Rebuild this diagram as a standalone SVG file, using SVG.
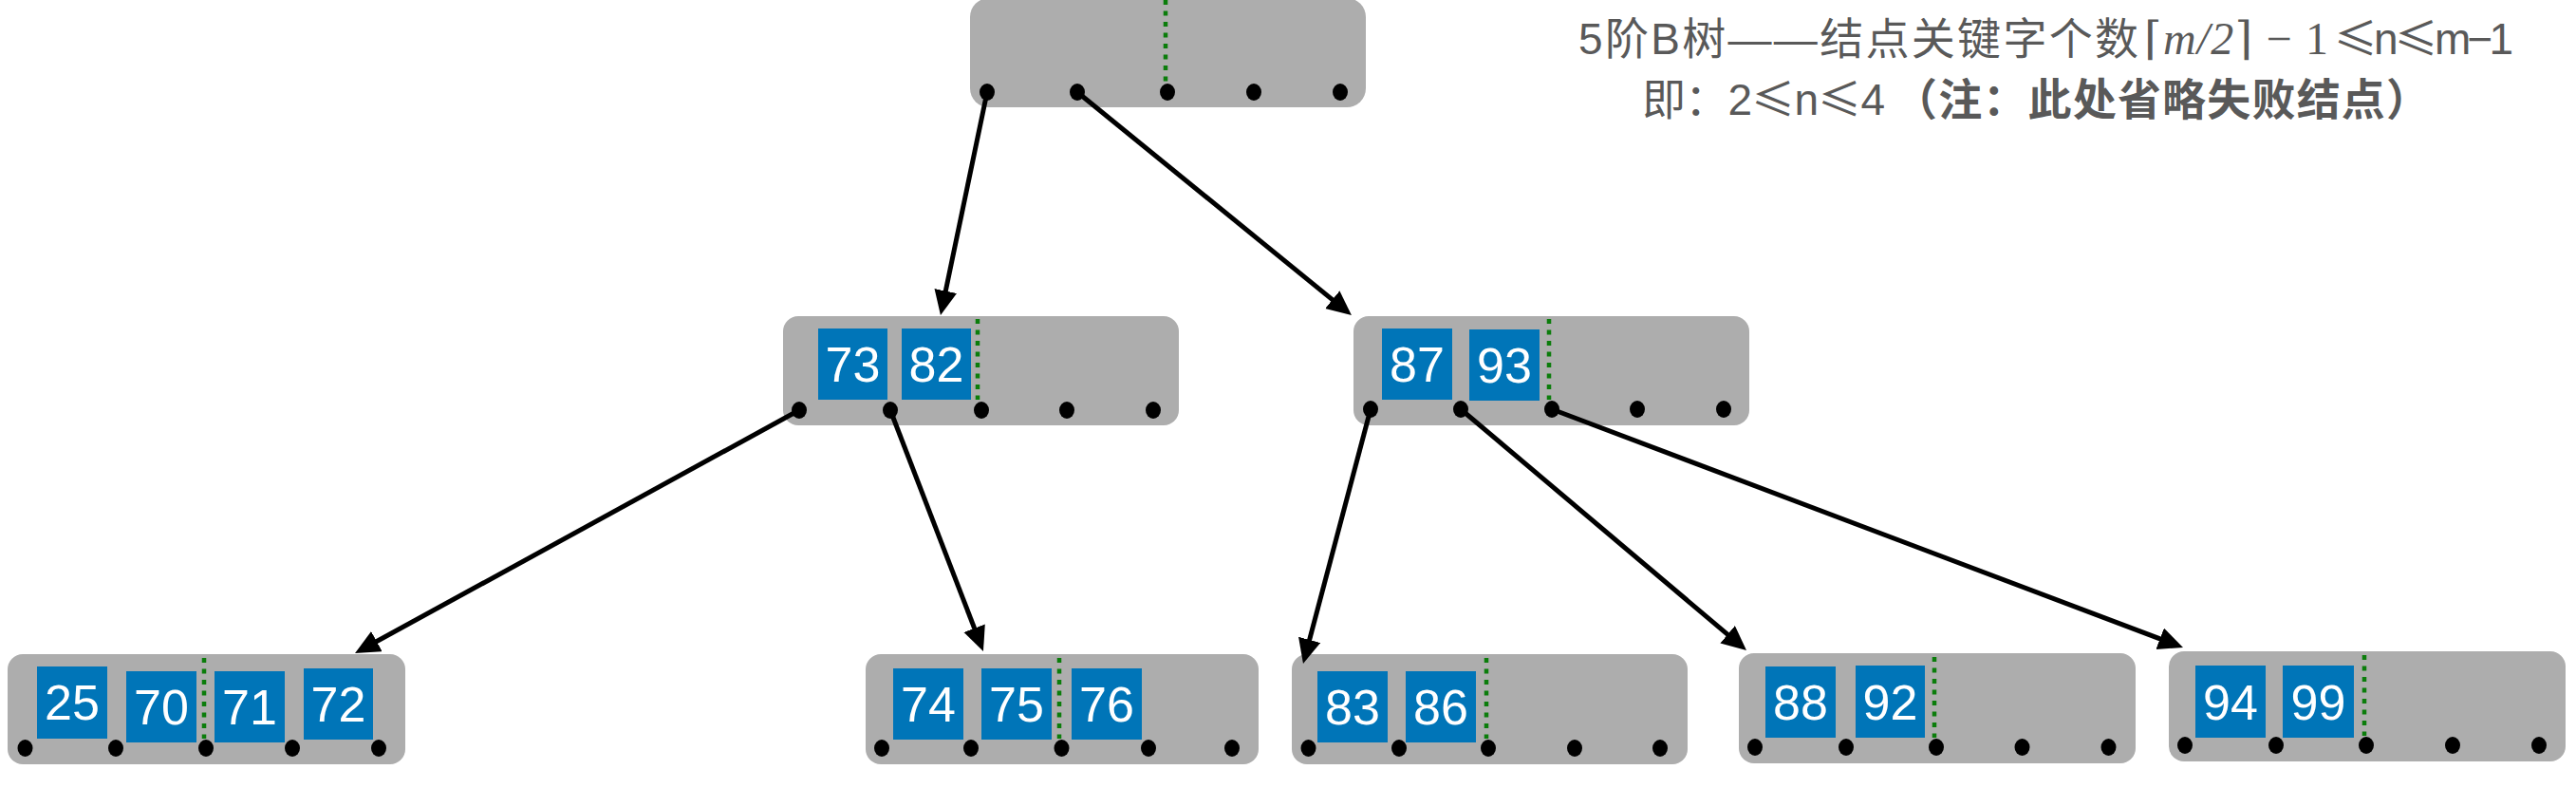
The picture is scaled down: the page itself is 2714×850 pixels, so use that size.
<svg xmlns="http://www.w3.org/2000/svg" width="2714" height="850" viewBox="0 0 2714 850">
<style>
.node{fill:#adadad}
.key{fill:#0075b8}
.kt{font-family:"Liberation Sans",Arial,sans-serif;font-size:52px;fill:#fff;text-anchor:middle}
.dot{fill:#000}
.div{stroke:#0b7d0b;stroke-width:4.5;stroke-dasharray:5 6.5;fill:none}
.edge{stroke:#000;stroke-width:5;fill:none;marker-end:url(#ah)}
.t{font-family:"Liberation Sans","Noto Sans CJK SC",sans-serif;font-size:46px;fill:#595959}
.ser{font-family:"Liberation Serif","DejaVu Serif",serif;font-size:48px;fill:#595959}
.cjk{font-family:"Noto Sans CJK SC",sans-serif}
</style>
<defs>
<marker id="ah" markerUnits="userSpaceOnUse" markerWidth="28" markerHeight="26" refX="15" refY="12" orient="auto">
<path d="M0,0 L26,12 L0,24 z" fill="#000"/>
</marker>
</defs>
<rect width="2714" height="850" fill="#fff"/>

<g id="title">
<text class="t" x="1663" y="57" textLength="590" lengthAdjust="spacing">5阶B树——结点关键字个数</text>
<text class="ser" x="2259" y="57" textLength="194" lengthAdjust="spacing">⌈<tspan font-style="italic">m/2</tspan>⌉ − 1</text>
<text class="t" x="2459" y="57" textLength="189" lengthAdjust="spacing"><tspan class="cjk">≤</tspan>n<tspan class="cjk">≤</tspan>m−1</text>
<text class="t" x="1730" y="121" textLength="256" lengthAdjust="spacing">即：2<tspan class="cjk">≤</tspan>n<tspan class="cjk">≤</tspan>4</text>
<text class="t" x="1995" y="121" font-weight="bold" textLength="565" lengthAdjust="spacing">（注：此处省略失败结点）</text>
</g>

<g id="root">
<rect class="node" x="1022" y="-2" width="417" height="115" rx="20"/>
<line class="div" x1="1228" y1="0" x2="1228" y2="86"/>
<ellipse class="dot" cx="1040" cy="97" rx="8" ry="9"/>
<ellipse class="dot" cx="1135" cy="97" rx="8" ry="9"/>
<ellipse class="dot" cx="1230" cy="97" rx="8" ry="9"/>
<ellipse class="dot" cx="1321" cy="97" rx="8" ry="9"/>
<ellipse class="dot" cx="1412" cy="97" rx="8" ry="9"/>
</g>

<g id="node-73-82">
<rect class="node" x="825" y="333" width="417" height="115" rx="16"/>
<rect class="key" x="862" y="346" width="73" height="75"/>
<rect class="key" x="950" y="346" width="73" height="75"/>
<text class="kt" x="898.5" y="402">73</text>
<text class="kt" x="986.5" y="402">82</text>
<line class="div" x1="1030" y1="336" x2="1030" y2="421"/>
<ellipse class="dot" cx="842" cy="432" rx="8" ry="9"/>
<ellipse class="dot" cx="938" cy="432" rx="8" ry="9"/>
<ellipse class="dot" cx="1034" cy="432" rx="8" ry="9"/>
<ellipse class="dot" cx="1124" cy="432" rx="8" ry="9"/>
<ellipse class="dot" cx="1215" cy="432" rx="8" ry="9"/>
</g>

<g id="node-87-93">
<rect class="node" x="1426" y="333" width="417" height="115" rx="16"/>
<rect class="key" x="1456" y="346" width="74" height="75"/>
<rect class="key" x="1548" y="347" width="74" height="75"/>
<text class="kt" x="1493" y="402">87</text>
<text class="kt" x="1585" y="403">93</text>
<line class="div" x1="1632" y1="336" x2="1632" y2="421"/>
<ellipse class="dot" cx="1444" cy="431" rx="8" ry="9"/>
<ellipse class="dot" cx="1539" cy="431" rx="8" ry="9"/>
<ellipse class="dot" cx="1635" cy="431" rx="8" ry="9"/>
<ellipse class="dot" cx="1725" cy="431" rx="8" ry="9"/>
<ellipse class="dot" cx="1816" cy="431" rx="8" ry="9"/>
</g>

<g id="node-25-70-71-72">
<rect class="node" x="8" y="689" width="419" height="116" rx="16"/>
<rect class="key" x="39" y="702" width="74" height="76"/>
<rect class="key" x="133" y="707" width="74" height="75"/>
<rect class="key" x="226" y="707" width="74" height="75"/>
<rect class="key" x="320" y="704" width="73" height="75"/>
<text class="kt" x="76" y="758">25</text>
<text class="kt" x="170" y="763">70</text>
<text class="kt" x="263" y="763">71</text>
<text class="kt" x="356.5" y="760">72</text>
<line class="div" x1="215" y1="693" x2="215" y2="778"/>
<ellipse class="dot" cx="26.5" cy="788" rx="8" ry="9"/>
<ellipse class="dot" cx="122" cy="788" rx="8" ry="9"/>
<ellipse class="dot" cx="217" cy="788" rx="8" ry="9"/>
<ellipse class="dot" cx="308" cy="788" rx="8" ry="9"/>
<ellipse class="dot" cx="399" cy="788" rx="8" ry="9"/>
</g>

<g id="node-74-75-76">
<rect class="node" x="912" y="689" width="414" height="116" rx="16"/>
<rect class="key" x="941" y="704" width="74" height="75"/>
<rect class="key" x="1034" y="704" width="74" height="75"/>
<rect class="key" x="1129" y="704" width="74" height="75"/>
<text class="kt" x="978" y="760">74</text>
<text class="kt" x="1071" y="760">75</text>
<text class="kt" x="1166" y="760">76</text>
<line class="div" x1="1116" y1="693" x2="1116" y2="778"/>
<ellipse class="dot" cx="929" cy="788" rx="8" ry="9"/>
<ellipse class="dot" cx="1023" cy="788" rx="8" ry="9"/>
<ellipse class="dot" cx="1118.5" cy="788" rx="8" ry="9"/>
<ellipse class="dot" cx="1210" cy="788" rx="8" ry="9"/>
<ellipse class="dot" cx="1298" cy="788" rx="8" ry="9"/>
</g>

<g id="node-83-86">
<rect class="node" x="1361" y="689" width="417" height="116" rx="16"/>
<rect class="key" x="1388" y="707" width="74" height="75"/>
<rect class="key" x="1481" y="707" width="74" height="75"/>
<text class="kt" x="1425" y="763">83</text>
<text class="kt" x="1518" y="763">86</text>
<line class="div" x1="1566" y1="693" x2="1566" y2="778"/>
<ellipse class="dot" cx="1378.5" cy="788" rx="8" ry="9"/>
<ellipse class="dot" cx="1474" cy="788" rx="8" ry="9"/>
<ellipse class="dot" cx="1568" cy="788" rx="8" ry="9"/>
<ellipse class="dot" cx="1659" cy="788" rx="8" ry="9"/>
<ellipse class="dot" cx="1749" cy="788" rx="8" ry="9"/>
</g>

<g id="node-88-92">
<rect class="node" x="1832" y="688" width="418" height="116" rx="16"/>
<rect class="key" x="1860" y="702" width="74" height="75"/>
<rect class="key" x="1955" y="701" width="73" height="76"/>
<text class="kt" x="1897" y="758">88</text>
<text class="kt" x="1991.5" y="757.5">92</text>
<line class="div" x1="2038" y1="692" x2="2038" y2="777"/>
<ellipse class="dot" cx="1849" cy="787" rx="8" ry="9"/>
<ellipse class="dot" cx="1945" cy="787" rx="8" ry="9"/>
<ellipse class="dot" cx="2040" cy="787" rx="8" ry="9"/>
<ellipse class="dot" cx="2130.5" cy="787" rx="8" ry="9"/>
<ellipse class="dot" cx="2221.5" cy="787" rx="8" ry="9"/>
</g>

<g id="node-94-99">
<rect class="node" x="2285" y="686" width="418" height="116" rx="16"/>
<rect class="key" x="2313" y="701" width="74" height="76"/>
<rect class="key" x="2405" y="701" width="75" height="76"/>
<text class="kt" x="2350" y="757.5">94</text>
<text class="kt" x="2442.5" y="757.5">99</text>
<line class="div" x1="2491" y1="690" x2="2491" y2="775"/>
<ellipse class="dot" cx="2302" cy="785" rx="8" ry="9"/>
<ellipse class="dot" cx="2398" cy="785" rx="8" ry="9"/>
<ellipse class="dot" cx="2493" cy="785" rx="8" ry="9"/>
<ellipse class="dot" cx="2584" cy="785" rx="8" ry="9"/>
<ellipse class="dot" cx="2675" cy="785" rx="8" ry="9"/>
</g>

<g id="connectors">
<line class="edge" x1="1040" y1="97" x2="993.2" y2="321.2"/>
<line class="edge" x1="1135" y1="97" x2="1415.4" y2="325.1"/>
<line class="edge" x1="842" y1="432" x2="383.7" y2="682.8"/>
<line class="edge" x1="938" y1="432" x2="1032" y2="675.7"/>
<line class="edge" x1="1444" y1="431" x2="1375.8" y2="688.4"/>
<line class="edge" x1="1539" y1="431" x2="1831.6" y2="677.9"/>
<line class="edge" x1="1635" y1="431" x2="2289.7" y2="678.1"/>
</g>
</svg>
